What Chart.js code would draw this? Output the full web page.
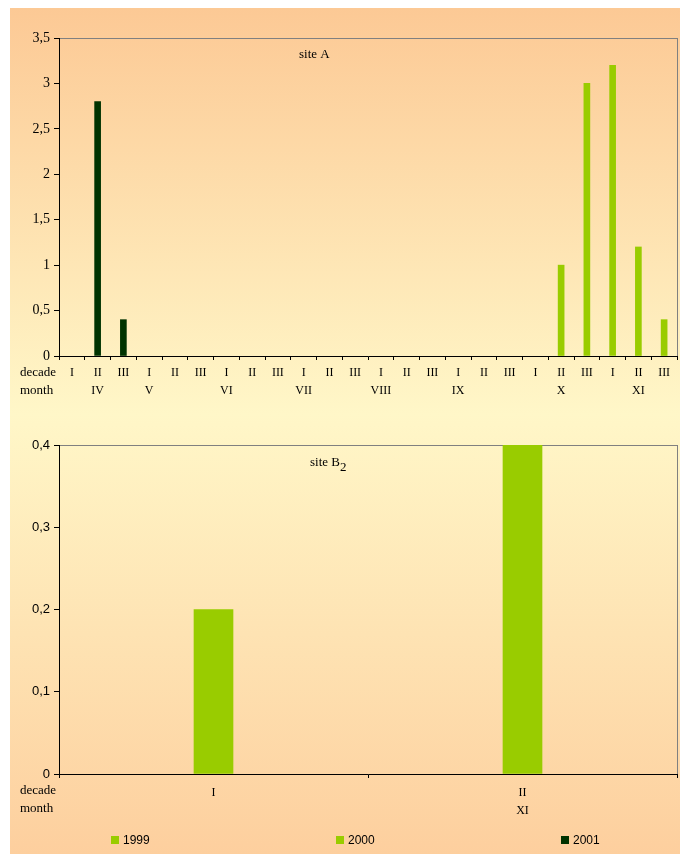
<!DOCTYPE html>
<html>
<head>
<meta charset="utf-8">
<script src="https://cdn.jsdelivr.net/npm/chart.js@4.4.0/dist/chart.umd.min.js"></script>
<style>
    body { margin: 0; width: 680px; height: 854px; background: #fff; position: relative; overflow: hidden; }
    #bg {
        position: absolute; left: 10px; top: 8px; right: 0; bottom: 0;
        background: linear-gradient(to bottom, #fcc995 0%, #fff7c8 48%, #fdcf9e 100%);
    }
    .wrap { position: absolute; left: 0; width: 680px; }
    #wrapA { top: 0; height: 420px; }
    #wrapB { top: 420px; height: 434px; }
    #legend { position: absolute; left: 0; top: 832px; width: 680px; height: 16px; font: 12px 'Liberation Sans', Arial, sans-serif; color: #000; }
    .item { position: absolute; top: 0; line-height: 16px; }
    .box { display: inline-block; width: 8px; height: 8px; margin-right: 4px; vertical-align: -0px; }
</style>
</head>
<body>
<div id="bg"></div>
<div class="wrap" id="wrapA"><canvas id="chartA"></canvas></div>
<div class="wrap" id="wrapB"><canvas id="chartB"></canvas></div>
<div id="legend"></div>
<script>
// site A: ten-day periods (decades) from April to November
const decadesA = ['I', 'II', 'III', 'I', 'II', 'III', 'I', 'II', 'III', 'I', 'II', 'III',
    'I', 'II', 'III', 'I', 'II', 'III', 'I', 'II', 'III', 'I', 'II', 'III'];
const monthsA = ['', 'IV', '', 'V', '', '', 'VI', '', '', 'VII', '', '', 'VIII', '', '', 'IX', '', '', '', 'X', '', '', 'XI', ''];
const y1999A = [null, null, null, null, null, null, null, null, null, null, null, null,
    null, null, null, null, null, null, null, null, null, null, null, null];
const y2000A = [null, null, null, null, null, null, null, null, null, null, null, null,
    null, null, null, null, null, null, null, 1.0, 3.0, 3.2, 1.2, 0.4];
const y2001A = [null, 2.8, 0.4, null, null, null, null, null, null, null, null, null,
    null, null, null, null, null, null, null, null, null, null, null, null];
const ticksA = [0, 0.5, 1, 1.5, 2, 2.5, 3, 3.5];

// site B2
const decadesB = ['I', 'II'];
const monthsB = ['', 'XI'];
const y1999B = [0.2, null];
const y2000B = [null, 0.4];
const y2001B = [null, null];
const ticksB = [0, 0.1, 0.2, 0.3, 0.4];

const years = ['1999', '2000', '2001'];
const colors = ['#99cc00', '#99cc00', '#003300'];

const serif = "'Liberation Serif', 'Times New Roman', serif";
const sans = "'Liberation Sans', Arial, sans-serif";

const fmt = (v) => Number(v.toFixed(1)).toString().replace('.', ',');

const frame = {
    id: 'frame',
    beforeDraw(chart) {
        const ca = chart.chartArea;
        const ctx = chart.ctx;
        ctx.save();
        ctx.strokeStyle = '#808080';
        ctx.lineWidth = 1;
        ctx.strokeRect(ca.left + 0.5, ca.top + 0.5, ca.right - ca.left, ca.bottom - ca.top);
        ctx.restore();
    },
    afterDraw(chart, args, opts) {
        const ca = chart.chartArea;
        const ctx = chart.ctx;
        ctx.save();
        ctx.fillStyle = '#000';
        ctx.font = '13px ' + serif;
        ctx.textBaseline = 'middle';
        ctx.textAlign = 'left';
        ctx.fillText('decade', 20, ca.bottom + 17);
        ctx.fillText('month', 20, ca.bottom + 35);
        const tx = opts.titleX;
        const ty = opts.titleY;
        ctx.fillText(opts.title, tx, ty);
        if (opts.sub) {
            const w = ctx.measureText(opts.title).width;
            ctx.fillText(opts.sub, tx + w, ty + 5);
        }
        ctx.restore();
    },
};

const makeChart = (id, labels, series, ticks, cfg) => {
    return new Chart(document.getElementById(id), {
        type: 'bar',
        data: {
            labels: labels,
            datasets: years.map((y, i) => ({
                label: y,
                data: series[i],
                backgroundColor: colors[i],
                barThickness: cfg.bar,
                grouped: false,
            })),
        },
        options: {
            responsive: true,
            maintainAspectRatio: false,
            animation: false,
            layout: { padding: { top: cfg.top, right: 3, left: 0, bottom: 0 } },
            plugins: {
                legend: { display: false },
                tooltip: { enabled: false },
                frame: { title: cfg.title, sub: cfg.sub, titleX: cfg.titleX, titleY: cfg.titleY },
            },
            scales: {
                x: {
                    afterFit: (s) => { s.height = cfg.xh; },
                    border: { color: '#000', width: 1 },
                    grid: { display: true, drawOnChartArea: false, offset: true, tickLength: 4, color: '#000' },
                    ticks: { color: '#000', font: { family: serif, size: 12, lineHeight: 1.5 }, padding: cfg.xpad, maxRotation: 0, autoSkip: false },
                },
                y: {
                    min: 0,
                    max: ticks[ticks.length - 1],
                    afterFit: (s) => { s.width = 59; },
                    afterBuildTicks: (s) => { s.ticks = ticks.map((v) => ({ value: v })); },
                    border: { color: '#000', width: 1 },
                    grid: { display: true, drawOnChartArea: false, tickLength: 5, color: '#000' },
                    ticks: { color: '#000', font: { family: cfg.yfont, size: cfg.ysize }, padding: 4, callback: fmt },
                },
            },
        },
        plugins: [frame],
    });
};

const labelsA = decadesA.map((d, i) => [d, monthsA[i]]);
const labelsB = decadesB.map((d, i) => [d, monthsB[i]]);

makeChart('chartA', labelsA, [y1999A, y2000A, y2001A], ticksA,
    { bar: 6, top: 38, xh: 64, xpad: 4, yfont: serif, ysize: 14, title: 'site A', titleX: 299, titleY: 55 });
makeChart('chartB', labelsB, [y1999B, y2000B, y2001B], ticksB,
    { bar: 39, top: 25, xh: 80, xpad: 6, yfont: sans, ysize: 13, title: 'site B', sub: '2', titleX: 310, titleY: 43 });

// legend shared by both charts
const legendX = [111, 336, 561];
const legend = document.getElementById('legend');
years.forEach((y, i) => {
    const item = document.createElement('div');
    item.className = 'item';
    item.style.left = legendX[i] + 'px';
    item.innerHTML = '<span class="box" style="background:' + colors[i] + '"></span>' + y;
    legend.appendChild(item);
});
</script>
</body>
</html>
